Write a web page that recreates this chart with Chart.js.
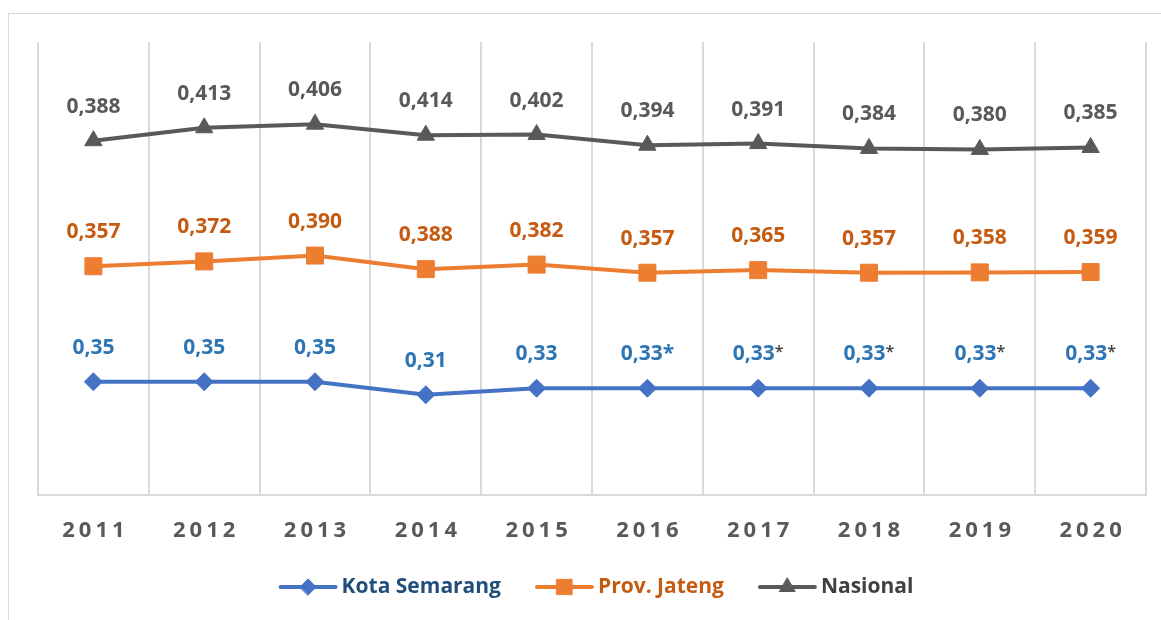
<!DOCTYPE html>
<html>
<head>
<meta charset="utf-8">
<script src="https://cdn.jsdelivr.net/npm/chart.js@4/dist/chart.umd.min.js"></script>
<style>
  html, body { margin: 0; padding: 0; background: #fff; }
  #wrap { position: relative; width: 1161px; height: 620px; }
</style>
</head>
<body>
<div id="wrap"><canvas id="chart" width="1161" height="620"></canvas></div>
<script>
const years = ['2011', '2012', '2013', '2014', '2015', '2016', '2017', '2018', '2019', '2020'];
const kotaSemarang = [0.35, 0.35, 0.35, 0.31, 0.33, 0.33, 0.33, 0.33, 0.33, 0.33];
const provJateng = [0.357, 0.372, 0.390, 0.388, 0.382, 0.357, 0.365, 0.357, 0.358, 0.359];
const nasional = [0.388, 0.413, 0.406, 0.414, 0.402, 0.394, 0.391, 0.384, 0.380, 0.385];
// asterisk notes on Kota Semarang labels (preliminary figures)
const kotaNotes = ['', '', '', '', '', '*', '*', '*', '*', '*'];
const yMax = 1.4;

const FONT = '"Open Sans", "Noto Sans", sans-serif';

function fmt(v, digits) {
  return v.toFixed(digits).replace('.', ',');
}

const seriesInfo = [
  { label: 'Kota Semarang', data: kotaSemarang, color: '#4472C4', text: '#2E75B6', legendText: '#1F4E79', point: 'rectRot', radius: 9, digits: 2 },
  { label: 'Prov. Jateng', data: provJateng, color: '#ED7D31', text: '#C55A11', legendText: '#C55A11', point: 'rect', radius: 12, digits: 3 },
  { label: 'Nasional', data: nasional, color: '#595959', text: '#595959', legendText: '#404040', point: 'triangle', radius: 10, digits: 3 }
];

const decorPlugin = {
  id: 'decor',
  beforeDraw(chart) {
    const ctx = chart.ctx;
    ctx.save();
    ctx.strokeStyle = '#d9d9d9';
    ctx.lineWidth = 1;
    ctx.strokeRect(8.5, 13.5, 1200, 700);
    ctx.restore();
  },
  afterDraw(chart) {
    const ctx = chart.ctx;
    const xScale = chart.scales.x;
    ctx.save();

    // data labels
    ctx.textBaseline = 'middle';
    chart.data.datasets.forEach((ds, di) => {
      const info = seriesInfo[di];
      const meta = chart.getDatasetMeta(di);
      meta.data.forEach((pt, i) => {
        const main = fmt(info.data[i], info.digits);
        const note = di === 0 ? kotaNotes[i] : '';
        const noteBold = di === 0 && i === 5;
        ctx.font = 'bold 21px ' + FONT;
        const wMain = ctx.measureText(main).width;
        let wNote = 0;
        if (note) {
          ctx.font = (noteBold ? 'bold 21px ' : '600 16px ') + FONT;
          wNote = ctx.measureText(note).width;
        }
        const x0 = pt.x - (wMain + wNote) / 2;
        const y = pt.y - 34;
        ctx.textAlign = 'left';
        ctx.font = 'bold 21px ' + FONT;
        ctx.fillStyle = info.text;
        ctx.fillText(main, x0, y);
        if (note) {
          ctx.font = (noteBold ? 'bold 21px ' : '600 16px ') + FONT;
          ctx.fillStyle = noteBold ? info.text : '#404040';
          ctx.fillText(note, x0 + wMain, noteBold ? y : y - 2);
        }
      });
    });

    // x axis labels with letter spacing
    ctx.font = 'bold 22px ' + FONT;
    ctx.fillStyle = '#595959';
    ctx.letterSpacing = '4px';
    ctx.textAlign = 'left';
    years.forEach((yr, i) => {
      const x = xScale.getPixelForValue(i);
      const w = ctx.measureText(yr).width - 4;
      ctx.fillText(yr, x - w / 2, 531);
    });
    ctx.letterSpacing = '0px';

    // legend
    ctx.font = 'bold 21px ' + FONT;
    const lineLen = 55, gapText = 6, gapItem = 36;
    const widths = seriesInfo.map(s => lineLen + gapText + ctx.measureText(s.label).width);
    const total = widths.reduce((a, b) => a + b, 0) + gapItem * (widths.length - 1);
    let x = (chart.chartArea.left + chart.chartArea.right) / 2 + 5 - total / 2;
    const ly = 587;
    seriesInfo.forEach((s, k) => {
      ctx.strokeStyle = s.color;
      ctx.fillStyle = s.color;
      ctx.lineWidth = 4;
      ctx.lineCap = 'round';
      ctx.beginPath();
      ctx.moveTo(x, ly);
      ctx.lineTo(x + lineLen, ly);
      ctx.stroke();
      ctx.lineWidth = 1;
      Chart.helpers.drawPoint(ctx, {
        pointStyle: s.point, radius: s.radius * 0.9, borderWidth: 1, rotation: 0
      }, x + lineLen / 2, ly);
      ctx.fillStyle = s.legendText;
      ctx.textAlign = 'left';
      ctx.textBaseline = 'middle';
      ctx.fillText(s.label, x + lineLen + gapText, ly);
      x += widths[k] + gapItem;
    });
    ctx.restore();
  }
};

new Chart(document.getElementById('chart'), {
  type: 'line',
  data: {
    labels: years,
    datasets: seriesInfo.map(s => ({
      label: s.label,
      data: s.data,
      borderColor: s.color,
      backgroundColor: s.color,
      borderWidth: 4,
      pointStyle: s.point,
      pointRadius: s.radius,
      pointHoverRadius: s.radius,
      pointBackgroundColor: s.color,
      pointBorderColor: s.color,
      pointBorderWidth: 1,
      tension: 0,
      fill: false
    }))
  },
  options: {
    responsive: false,
    animation: false,
    events: [],
    layout: { padding: { left: 38, right: 15, top: 42, bottom: 125 } },
    plugins: {
      legend: { display: false },
      tooltip: { enabled: false }
    },
    scales: {
      x: {
        offset: true,
        grid: { color: '#d9d9d9', lineWidth: 2, offset: true, drawTicks: false },
        border: { color: '#d9d9d9', width: 2 },
        ticks: { display: false }
      },
      y: {
        display: false,
        stacked: true,
        min: 0,
        max: yMax
      }
    }
  },
  plugins: [decorPlugin]
});
</script>
</body>
</html>
